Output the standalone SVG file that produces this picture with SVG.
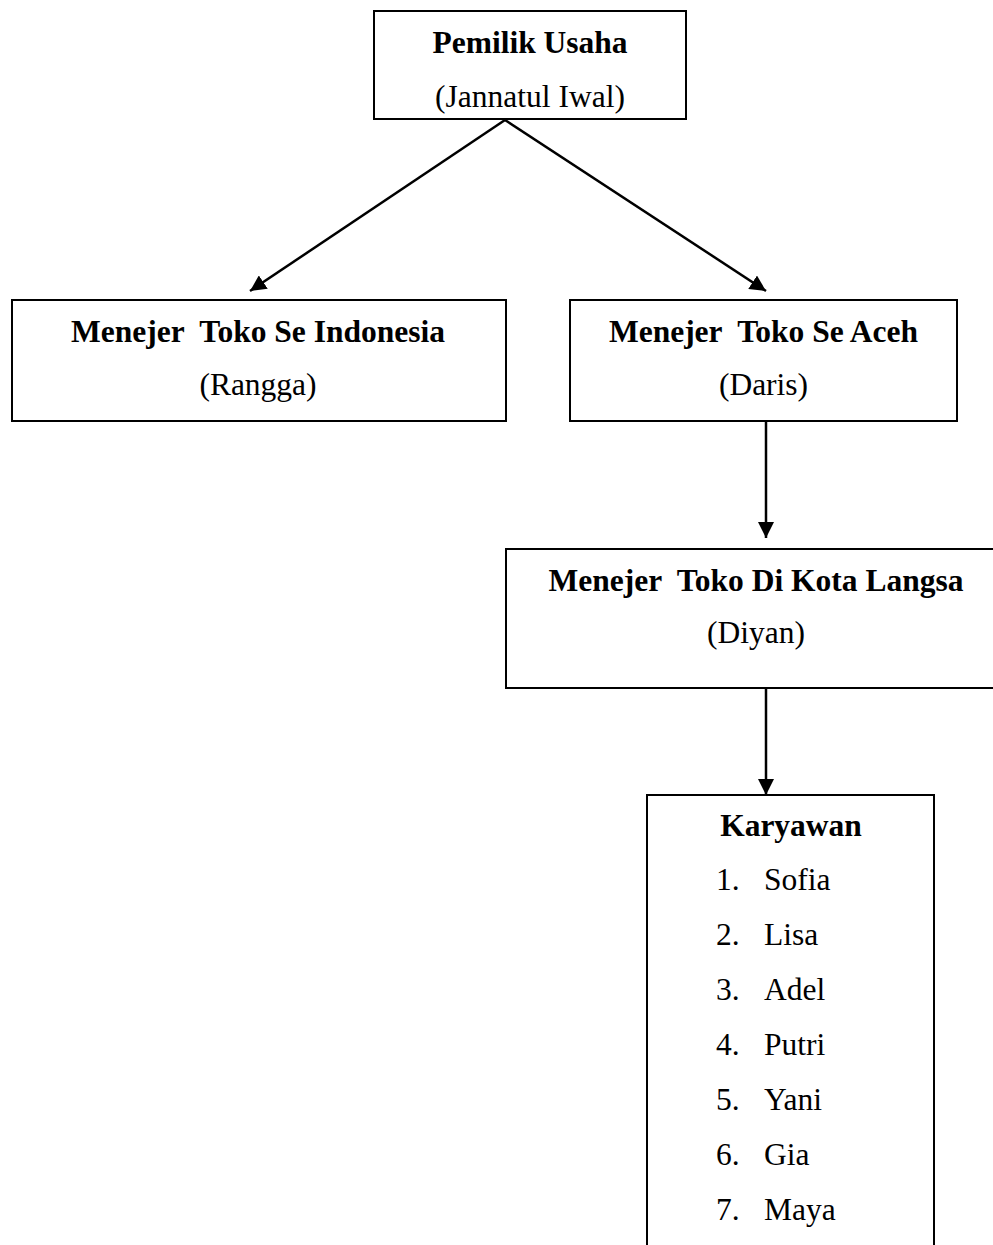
<svg xmlns="http://www.w3.org/2000/svg" width="993" height="1245" viewBox="0 0 993 1245">
<defs>
<marker id="ah" viewBox="0 0 16 16" refX="16" refY="8" markerWidth="16" markerHeight="16" markerUnits="userSpaceOnUse" orient="auto">
<path d="M0,0 L16,8 L0,16 z" fill="#000"/>
</marker>
</defs>
<style>
.box{fill:#fff;stroke:#000;stroke-width:2}
.b{font-family:"Liberation Serif","Times New Roman",serif;font-weight:bold;font-size:31.5px;fill:#000}
.r{font-family:"Liberation Serif","Times New Roman",serif;font-size:31.5px;fill:#000}
.c{stroke:#000;stroke-width:2.5;fill:none}
</style>
<rect width="993" height="1245" fill="#fff"/>
<g id="connectors">
<line class="c" x1="505" y1="120" x2="250" y2="291" marker-end="url(#ah)"/>
<line class="c" x1="505" y1="120" x2="766" y2="291" marker-end="url(#ah)"/>
<line class="c" x1="766" y1="421" x2="766" y2="538" marker-end="url(#ah)"/>
<line class="c" x1="766" y1="688" x2="766" y2="795" marker-end="url(#ah)"/>
</g>
<g id="pemilik">
<rect class="box" x="374" y="11" width="312" height="108"/>
<text class="b" x="530" y="53" text-anchor="middle">Pemilik Usaha</text>
<text class="r" x="530" y="107" text-anchor="middle">(Jannatul Iwal)</text>
</g>
<g id="indonesia">
<rect class="box" x="12" y="300" width="494" height="121"/>
<text class="b" x="258" y="342" text-anchor="middle" xml:space="preserve">Menejer  Toko Se Indonesia</text>
<text class="r" x="258" y="395" text-anchor="middle">(Rangga)</text>
</g>
<g id="aceh">
<rect class="box" x="570" y="300" width="387" height="121"/>
<text class="b" x="763.5" y="342" text-anchor="middle" xml:space="preserve">Menejer  Toko Se Aceh</text>
<text class="r" x="763.5" y="395" text-anchor="middle">(Daris)</text>
</g>
<g id="langsa">
<rect class="box" x="506" y="549" width="500" height="139"/>
<text class="b" x="756" y="591" text-anchor="middle" xml:space="preserve">Menejer  Toko Di Kota Langsa</text>
<text class="r" x="756" y="643" text-anchor="middle">(Diyan)</text>
</g>
<g id="karyawan">
<rect class="box" x="647" y="795" width="287" height="480"/>
<text class="b" x="791" y="836" text-anchor="middle">Karyawan</text>
<text class="r" x="716" y="890">1.</text><text class="r" x="764" y="890">Sofia</text>
<text class="r" x="716" y="945">2.</text><text class="r" x="764" y="945">Lisa</text>
<text class="r" x="716" y="1000">3.</text><text class="r" x="764" y="1000">Adel</text>
<text class="r" x="716" y="1055">4.</text><text class="r" x="764" y="1055">Putri</text>
<text class="r" x="716" y="1110">5.</text><text class="r" x="764" y="1110">Yani</text>
<text class="r" x="716" y="1165">6.</text><text class="r" x="764" y="1165">Gia</text>
<text class="r" x="716" y="1220">7.</text><text class="r" x="764" y="1220">Maya</text>
</g>
</svg>
